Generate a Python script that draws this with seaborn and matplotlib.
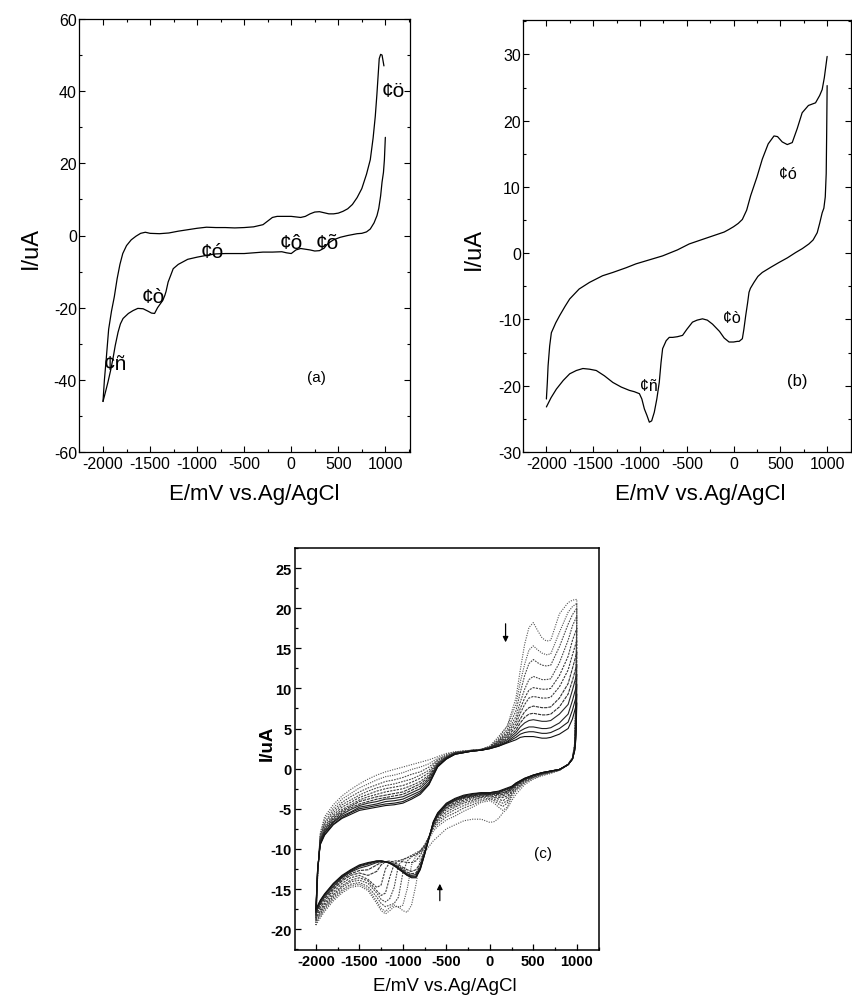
import numpy as np
import pandas as pd
import seaborn as sns
import matplotlib.pyplot as plt
from matplotlib.ticker import MultipleLocator

sns.set_theme(style='ticks')
plt.rcParams['font.family'] = ['Liberation Sans', 'DejaVu Sans']
plt.rcParams['axes.unicode_minus'] = False
plt.rcParams['text.color'] = 'black'
plt.rcParams['axes.labelcolor'] = 'black'
plt.rcParams['xtick.color'] = 'black'
plt.rcParams['ytick.color'] = 'black'

# ---------------- panel (a) ----------------
a_up_E = [-2000, -1985, -1965, -1940, -1910, -1880, -1850, -1820, -1790, -1750, -1700, -1650,
          -1600, -1550, -1500, -1400, -1300, -1200, -1100, -1000, -900, -800, -700, -600, -500,
          -400, -300, -250, -200, -150, -100, 0, 100, 150, 200, 250, 300, 350, 400, 450, 500,
          550, 600, 650, 700, 750, 800, 840, 870, 893, 910, 925, 935, 950, 965, 975, 985]
a_up_I = [-46, -40, -34, -26, -21, -17, -12, -8, -5, -2.8, -1.2, -0.2,
          0.6, 0.9, 0.6, 0.5, 0.7, 1.2, 1.6, 2.0, 2.3, 2.2, 2.2, 2.1, 2.2,
          2.4, 3.0, 4.0, 5.0, 5.3, 5.3, 5.3, 5.0, 5.3, 6.0, 6.5, 6.6, 6.3, 6.0, 6.0, 6.2,
          6.7, 7.4, 8.6, 10.5, 13.0, 17.0, 21.0, 27.0, 33.0, 39.0, 45.0, 49.0, 50.2, 50.0, 48.5, 47.0]
a_dn_E = [1000, 990, 980, 965, 950, 930, 911, 880, 840, 800, 750, 700, 600, 520, 450, 414,
          380, 350, 300, 250, 200, 150, 100, 50, 0, -50, -100, -200, -300, -400, -500, -600,
          -700, -800, -900, -1000, -1100, -1150, -1200, -1254, -1280, -1308, -1330, -1343,
          -1365, -1390, -1420, -1452, -1485, -1520, -1574, -1630, -1680, -1730, -1787, -1815,
          -1840, -1870, -1894, -1920, -1947, -1975, -2000]
a_dn_I = [27.2, 21.0, 17.5, 14.8, 11.0, 7.5, 5.5, 3.5, 1.8, 1.0, 0.6, 0.5, 0.0, -0.5, -1.2, -1.8,
          -2.5, -3.5, -4.2, -4.3, -4.0, -3.8, -3.6, -4.0, -5.0, -4.8, -4.5, -4.6, -4.6, -4.8, -5.0, -5.0,
          -5.0, -5.1, -5.5, -6.0, -6.6, -7.3, -8.0, -9.2, -11.0, -12.9, -15.5, -16.6,
          -18.0, -18.9, -20.0, -21.6, -21.5, -21.0, -20.3, -20.2, -20.8, -21.6, -23.0, -24.5,
          -26.8, -30.5, -34.1, -37.5, -40.6, -43.5, -46.0]
a_labels = ['¢ñ', '¢ò', '¢ó', '¢ô', '¢õ', '¢ö']
a_label_E = [-1872, -1465, -844, -3, 380, 1088]
a_label_I = [-35.6, -17.0, -4.4, -1.9, -1.9, 40.1]

# ---------------- panel (b) ----------------
b_up_E = [-2000, -1990, -1982, -1965, -1947, -1900, -1858, -1800, -1751, -1650, -1539, -1400,
          -1290, -1150, -1042, -900, -758, -600, -474, -350, -225, -100, -48, 0, 50, 94, 140,
          183, 250, 307, 370, 432, 470, 520, 574, 627, 680, 733, 800, 876, 920, 947, 970, 1000]
b_up_I = [-22.0, -19.5, -17.0, -14.0, -12.0, -10.5, -9.4, -8.0, -6.9, -5.4, -4.4, -3.4,
          -2.9, -2.2, -1.6, -1.0, -0.4, 0.5, 1.4, 2.0, 2.6, 3.2, 3.6, 4.0, 4.5, 5.1, 6.5,
          8.7, 11.5, 14.2, 16.5, 17.7, 17.6, 16.8, 16.4, 16.7, 18.8, 21.2, 22.3, 22.7, 23.8, 24.7, 26.5, 29.7]
b_dn_E = [1000, 995, 990, 980, 965, 947, 920, 894, 850, 805, 735, 663, 575, 485, 400, 307,
          260, 218, 180, 165, 150, 130, 110, 94, 60, 41, 0, -48, -100, -150, -225, -280, -332,
          -390, -439, -500, -545, -600, -650, -687, -720, -758, -775, -794, -820, -847, -875,
          -900, -925, -953, -980, -1006, -1060, -1113, -1200, -1290, -1380, -1467, -1540,
          -1610, -1680, -1751, -1820, -1893, -1950, -2000]
b_dn_I = [25.3, 18.0, 12.0, 8.5, 6.8, 6.1, 4.5, 3.1, 2.0, 1.4, 0.7, 0.1, -0.7, -1.4, -2.1, -2.9,
          -3.5, -4.4, -5.3, -5.9, -7.5, -9.4, -11.5, -12.9, -13.3, -13.3, -13.4, -13.4, -12.8,
          -11.8, -10.7, -10.1, -9.9, -10.1, -10.4, -11.5, -12.4, -12.6, -12.7, -12.7, -13.2,
          -14.4, -16.5, -19.5, -22.0, -24.0, -25.3, -25.5, -24.5, -23.5, -22.0, -21.2, -20.9,
          -20.7, -20.2, -19.5, -18.5, -17.7, -17.5, -17.4, -17.7, -18.2, -19.2, -20.5, -21.8, -23.2]
b_labels = ['¢ó', '¢ò', '¢ñ']
b_label_E = [584, -19, -900]
b_label_I = [12.1, -9.7, -20.0]

# ---------------- panel (c): repeated scans ----------------
c_up_E = [-2000, -1980, -1950, -1900, -1800, -1700, -1600, -1500, -1400, -1300, -1200, -1100,
          -1000, -900, -800, -700, -600, -500, -400, -300, -200, -100, 0, 100, 200, 300, 350,
          400, 450, 500, 550, 600, 650, 700, 800, 900, 950, 1000]
c_dn_E = [1000, 990, 975, 950, 900, 800, 700, 600, 500, 400, 300, 250, 200, 150, 100, 50, 0,
          -100, -200, -300, -400, -500, -600, -650, -700, -750, -800, -850, -900, -950, -1000,
          -1050, -1100, -1150, -1200, -1250, -1300, -1400, -1500, -1600, -1700, -1800, -1900,
          -1950, -2000]
c_up_I = [
    [-19.5, -13.5, -8.0, -6.0, -4.5, -3.4, -2.6, -1.9, -1.3, -0.8, -0.4, -0.1, 0.2, 0.5, 0.8, 1.1, 1.5, 1.9, 2.1, 2.2, 2.3, 2.4,
     2.8, 4.0, 5.3, 8.8, 12.3, 15.5, 17.6, 18.2, 17.2, 16.3, 15.9, 16.0, 19.3, 20.7, 21.0, 21.1],
    [-19.2, -13.4, -8.2, -6.3, -4.9, -3.8, -3.1, -2.4, -1.9, -1.4, -1.0, -0.8, -0.5, -0.1, 0.2, 0.6, 1.3, 1.8, 2.1, 2.2, 2.3, 2.4,
     2.8, 3.8, 5.3, 8.0, 10.8, 13.0, 14.8, 15.3, 14.8, 14.4, 14.2, 14.3, 17.0, 19.5, 20.2, 20.6],
    [-19.0, -13.3, -8.4, -6.7, -5.2, -4.2, -3.5, -2.9, -2.4, -2.0, -1.6, -1.4, -1.1, -0.7, -0.4, 0.2, 1.1, 1.7, 2.0, 2.2, 2.3, 2.4,
     2.7, 3.6, 4.9, 7.2, 9.5, 11.6, 13.1, 13.6, 13.2, 12.9, 12.8, 12.9, 15.2, 18.0, 19.2, 20.0],
    [-18.8, -13.2, -8.6, -6.9, -5.5, -4.5, -3.9, -3.3, -2.8, -2.4, -2.1, -1.9, -1.6, -1.3, -0.8, -0.2, 1.0, 1.6, 2.0, 2.1, 2.3, 2.4,
     2.7, 3.5, 4.6, 6.5, 8.3, 9.9, 11.1, 11.5, 11.3, 11.1, 11.1, 11.2, 13.2, 16.0, 17.8, 19.0],
    [-18.6, -13.1, -8.8, -7.2, -5.8, -4.8, -4.2, -3.6, -3.2, -2.8, -2.5, -2.3, -2.1, -1.7, -1.2, -0.5, 0.8, 1.5, 2.0, 2.1, 2.3, 2.4,
     2.7, 3.4, 4.4, 6.0, 7.5, 8.8, 9.8, 10.1, 10.0, 9.9, 9.9, 10.0, 11.6, 14.0, 16.0, 17.5],
    [-18.4, -13.0, -8.9, -7.4, -6.0, -5.1, -4.5, -3.9, -3.5, -3.2, -2.9, -2.7, -2.5, -2.1, -1.6, -0.8, 0.7, 1.5, 1.9, 2.1, 2.2, 2.3,
     2.6, 3.3, 4.2, 5.6, 6.9, 8.0, 8.8, 9.0, 8.9, 8.8, 8.8, 8.9, 10.2, 12.3, 14.2, 16.0],
    [-18.2, -12.9, -9.0, -7.6, -6.2, -5.3, -4.7, -4.1, -3.8, -3.5, -3.3, -3.1, -2.9, -2.4, -1.9, -1.0, 0.6, 1.4, 1.9, 2.1, 2.2, 2.3,
     2.6, 3.2, 4.0, 5.2, 6.2, 7.1, 7.6, 7.8, 7.7, 7.6, 7.6, 7.7, 8.8, 10.6, 12.5, 14.5],
    [-18.0, -12.8, -9.1, -7.7, -6.4, -5.5, -4.9, -4.4, -4.1, -3.8, -3.6, -3.4, -3.2, -2.7, -2.2, -1.2, 0.5, 1.4, 1.9, 2.1, 2.2, 2.3,
     2.6, 3.1, 3.8, 4.8, 5.7, 6.4, 6.8, 6.9, 6.8, 6.7, 6.7, 6.8, 7.7, 9.3, 11.0, 13.0],
    [-17.9, -12.7, -9.2, -7.9, -6.6, -5.7, -5.1, -4.6, -4.3, -4.1, -3.8, -3.7, -3.5, -3.0, -2.5, -1.4, 0.4, 1.3, 1.9, 2.0, 2.2, 2.3,
     2.6, 3.0, 3.6, 4.5, 5.2, 5.7, 6.0, 6.1, 6.0, 5.9, 5.9, 6.0, 6.8, 8.0, 9.8, 11.8],
    [-17.8, -12.6, -9.3, -8.0, -6.7, -5.9, -5.4, -4.8, -4.6, -4.4, -4.1, -4.0, -3.8, -3.3, -2.8, -1.7, 0.3, 1.3, 1.8, 2.0, 2.2, 2.3,
     2.5, 2.9, 3.4, 4.2, 4.7, 5.0, 5.2, 5.2, 5.1, 5.0, 5.0, 5.1, 5.7, 6.8, 8.5, 10.5],
    [-17.6, -12.5, -9.4, -8.2, -6.9, -6.1, -5.5, -5.0, -4.8, -4.6, -4.4, -4.3, -4.1, -3.6, -3.0, -1.9, 0.3, 1.2, 1.8, 2.0, 2.2, 2.3,
     2.5, 2.8, 3.3, 3.9, 4.3, 4.5, 4.6, 4.6, 4.5, 4.4, 4.4, 4.5, 5.0, 5.8, 7.3, 9.3],
    [-17.5, -12.5, -9.5, -8.3, -7.0, -6.2, -5.7, -5.2, -5.0, -4.8, -4.6, -4.5, -4.3, -3.8, -3.2, -2.0, 0.2, 1.2, 1.8, 2.0, 2.2, 2.3,
     2.5, 2.8, 3.2, 3.6, 3.9, 4.0, 4.0, 4.0, 3.9, 3.8, 3.8, 3.9, 4.3, 5.0, 6.2, 8.2],
]
c_dn_I = [
    [21.1, 9.5, 3.2, 1.4, 0.6, -0.2, -0.6, -0.9, -1.3, -2.0, -3.2, -4.0, -5.0, -5.5, -6.2, -6.6, -6.7, -6.3, -6.3, -6.5, -7.0, -7.5, -8.5,
     -9.0, -9.7, -10.4, -11.2, -14.5, -17.0, -17.9, -17.7, -17.2, -17.2, -17.7, -18.1, -17.7, -16.8, -15.2, -14.6, -14.8, -15.5, -16.5, -17.8, -18.6, -19.5],
    [20.6, 9.3, 3.0, 1.3, 0.5, -0.2, -0.5, -0.8, -1.2, -1.8, -2.8, -3.6, -4.8, -5.2, -4.8, -4.3, -4.0, -4.2, -4.8, -5.3, -5.9, -6.4, -7.2,
     -7.8, -8.8, -9.8, -10.5, -10.9, -12.0, -15.0, -17.0, -17.3, -17.0, -17.3, -17.8, -17.4, -16.5, -15.0, -14.4, -14.6, -15.3, -16.3, -17.6, -18.4, -19.2],
    [20.0, 9.0, 2.9, 1.3, 0.5, -0.2, -0.5, -0.7, -1.1, -1.7, -2.6, -3.3, -4.3, -4.7, -4.4, -4.0, -3.8, -4.0, -4.5, -4.9, -5.5, -6.0, -6.9,
     -7.5, -8.6, -9.6, -10.3, -10.7, -11.0, -11.5, -13.0, -16.0, -16.8, -17.0, -17.2, -16.8, -16.0, -14.7, -14.2, -14.4, -15.1, -16.1, -17.4, -18.2, -19.0],
    [19.0, 8.5, 2.8, 1.3, 0.5, -0.2, -0.4, -0.7, -1.1, -1.6, -2.5, -3.1, -4.0, -4.3, -4.1, -3.8, -3.7, -3.8, -4.2, -4.6, -5.1, -5.7, -6.6,
     -7.3, -8.5, -9.5, -10.2, -10.5, -10.8, -11.1, -11.4, -12.0, -14.8, -16.2, -16.6, -16.3, -15.5, -14.3, -13.9, -14.1, -14.8, -15.9, -17.2, -18.0, -18.8],
    [17.5, 7.9, 2.7, 1.3, 0.5, -0.2, -0.4, -0.7, -1.0, -1.5, -2.3, -2.9, -3.6, -4.0, -3.8, -3.6, -3.5, -3.6, -4.0, -4.3, -4.8, -5.4, -6.4,
     -7.2, -8.5, -9.6, -10.3, -10.7, -10.9, -11.1, -11.3, -11.5, -11.9, -13.5, -15.5, -15.8, -15.2, -14.0, -13.6, -13.9, -14.6, -15.7, -17.0, -17.8, -18.6],
    [16.0, 7.2, 2.6, 1.2, 0.5, -0.1, -0.4, -0.6, -1.0, -1.4, -2.2, -2.8, -3.4, -3.6, -3.6, -3.5, -3.4, -3.5, -3.8, -4.1, -4.6, -5.1, -6.2,
     -7.1, -8.5, -9.8, -10.8, -11.5, -11.7, -11.7, -11.6, -11.5, -11.5, -11.7, -12.5, -14.5, -14.8, -13.8, -13.3, -13.6, -14.3, -15.4, -16.8, -17.6, -18.4],
    [14.5, 6.5, 2.5, 1.2, 0.5, -0.1, -0.4, -0.6, -0.9, -1.4, -2.1, -2.6, -3.1, -3.4, -3.4, -3.3, -3.3, -3.4, -3.6, -3.9, -4.4, -4.9, -6.0,
     -7.0, -8.6, -10.2, -11.8, -12.6, -12.8, -12.6, -12.3, -12.0, -11.7, -11.5, -11.6, -12.0, -12.8, -13.3, -13.0, -13.3, -14.0, -15.1, -16.5, -17.3, -18.2],
    [13.0, 5.8, 2.4, 1.2, 0.5, -0.1, -0.3, -0.6, -0.9, -1.3, -2.0, -2.5, -2.9, -3.2, -3.2, -3.2, -3.2, -3.3, -3.5, -3.7, -4.2, -4.8, -5.9,
     -6.9, -8.6, -10.4, -12.1, -13.0, -13.1, -12.9, -12.5, -12.2, -11.9, -11.7, -11.6, -11.7, -12.0, -12.6, -12.7, -13.1, -13.8, -14.9, -16.2, -17.0, -18.0],
    [11.8, 5.3, 2.4, 1.2, 0.5, -0.1, -0.3, -0.5, -0.9, -1.3, -2.0, -2.4, -2.8, -3.0, -3.1, -3.1, -3.2, -3.2, -3.4, -3.6, -4.0, -4.6, -5.8,
     -6.8, -8.6, -10.5, -12.3, -13.2, -13.3, -13.1, -12.7, -12.3, -12.0, -11.7, -11.6, -11.6, -11.7, -12.1, -12.4, -12.9, -13.6, -14.7, -16.0, -16.8, -17.9],
    [10.5, 4.7, 2.3, 1.2, 0.5, -0.1, -0.3, -0.5, -0.8, -1.3, -1.9, -2.3, -2.6, -2.8, -3.0, -3.0, -3.1, -3.1, -3.3, -3.5, -3.9, -4.5, -5.7,
     -6.7, -8.6, -10.6, -12.4, -13.4, -13.4, -13.2, -12.8, -12.4, -12.0, -11.7, -11.6, -11.5, -11.6, -11.9, -12.2, -12.8, -13.5, -14.5, -15.8, -16.6, -17.8],
    [9.3, 4.2, 2.3, 1.2, 0.5, -0.1, -0.3, -0.5, -0.8, -1.2, -1.8, -2.3, -2.5, -2.7, -2.9, -2.9, -3.0, -3.0, -3.2, -3.4, -3.8, -4.4, -5.6,
     -6.7, -8.7, -10.7, -12.5, -13.5, -13.5, -13.3, -12.9, -12.5, -12.1, -11.8, -11.6, -11.5, -11.5, -11.8, -12.1, -12.7, -13.4, -14.4, -15.7, -16.5, -17.6],
    [8.2, 3.7, 2.2, 1.2, 0.5, -0.1, -0.3, -0.5, -0.8, -1.2, -1.8, -2.2, -2.4, -2.6, -2.8, -2.9, -3.0, -3.0, -3.1, -3.3, -3.7, -4.3, -5.5,
     -6.6, -8.7, -10.7, -12.6, -13.6, -13.6, -13.3, -12.9, -12.5, -12.1, -11.8, -11.6, -11.5, -11.5, -11.7, -12.0, -12.6, -13.3, -14.3, -15.6, -16.4, -17.5],
]

rows = []
for k, (up, dn) in enumerate(zip(c_up_I, c_dn_I)):
    assert len(up) == len(c_up_E) and len(dn) == len(c_dn_E), k
    for e, i in zip(c_up_E + c_dn_E, up + dn):
        rows.append({'cycle': k, 'E': e, 'I': i})
c_df = pd.DataFrame(rows)

# ---------------- figure ----------------
W, H = 853, 1003
fig = plt.figure(figsize=(W / 100, H / 100), dpi=100)


def box(left, right, top, bottom):
    return [left / W, 1 - bottom / H, (right - left) / W, (bottom - top) / H]


ax_a = fig.add_axes(box(79, 410, 20, 453))
ax_b = fig.add_axes(box(523, 851, 21, 453))
ax_c = fig.add_axes(box(295, 599, 549, 951))

for ax, uE, uI, dE, dI in [(ax_a, a_up_E, a_up_I, a_dn_E, a_dn_I),
                           (ax_b, b_up_E, b_up_I, b_dn_E, b_dn_I)]:
    sns.lineplot(x=uE, y=uI, sort=False, estimator=None, color='black', lw=0.9, ax=ax)
    sns.lineplot(x=dE, y=dI, sort=False, estimator=None, color='black', lw=0.9, ax=ax)

# scans (c): early ones lighter and dotted, later ones dark
greys = ['#555555', '#505050', '#4a4a4a', '#454545', '#404040', '#3a3a3a',
         '#333333', '#2d2d2d', '#262626', '#202020', '#1a1a1a', '#111111']
dash_list = [(1, 1.2), (1, 1.1), (1.5, 1), (1.5, 1), (2, 1), (2, 1),
             (3, 0.8), (3, 0.8), '', '', '', '']
sns.lineplot(data=c_df, x='E', y='I', hue='cycle', style='cycle', sort=False, estimator=None,
             palette=dict(enumerate(greys)), dashes=dict(enumerate(dash_list)),
             lw=0.8, legend=False, ax=ax_c)

# ---------------- axes styling ----------------
for ax, xl, yl, ymaj, ymin in [(ax_a, (-2255, 1262), (-60, 60), 20, 10),
                               (ax_b, (-2250, 1255), (-30, 35.2), 10, 5)]:
    ax.set_xlim(*xl)
    ax.set_ylim(*yl)
    ax.xaxis.set_major_locator(MultipleLocator(500))
    ax.xaxis.set_minor_locator(MultipleLocator(250))
    ax.yaxis.set_major_locator(MultipleLocator(ymaj))
    ax.yaxis.set_minor_locator(MultipleLocator(ymin))
    ax.tick_params(which='both', direction='in', top=True, right=True, width=0.8, colors='black',
                   labelsize=11.5)
    ax.tick_params(which='major', length=4)
    ax.tick_params(which='minor', length=2.5)
    ax.tick_params(axis='x', pad=3)
    ax.tick_params(axis='y', pad=1.5)
    for s in ax.spines.values():
        s.set_linewidth(0.9)
        s.set_color('black')
    ax.set_xlabel('E/mV vs.Ag/AgCl', fontsize=16)
    ax.set_ylabel('I/uA', fontsize=17)

ax_a.xaxis.set_label_coords(0.529, -0.072)
ax_a.yaxis.set_label_coords(-0.113, 0.473)
ax_b.xaxis.set_label_coords(0.541, -0.072)
ax_b.yaxis.set_label_coords(-0.117, 0.472)

ax_c.set_xlim(-2240, 1255)
ax_c.set_ylim(-22.6, 27.5)
ax_c.xaxis.set_major_locator(MultipleLocator(500))
ax_c.xaxis.set_minor_locator(MultipleLocator(250))
ax_c.yaxis.set_major_locator(MultipleLocator(5))
ax_c.yaxis.set_minor_locator(MultipleLocator(2.5))
ax_c.tick_params(which='both', direction='in', width=0.9, colors='black')
ax_c.tick_params(which='major', length=4)
ax_c.tick_params(which='minor', length=2.5)
ax_c.tick_params(axis='x', pad=3)
ax_c.tick_params(axis='y', pad=2.5)
for lab in ax_c.get_xticklabels() + ax_c.get_yticklabels():
    lab.set_family(['Liberation Sans Narrow', 'Liberation Sans'])
    lab.set_fontsize(10.5)
    lab.set_fontweight('bold')
for s in ax_c.spines.values():
    s.set_linewidth(1.1)
    s.set_color('black')
ax_c.set_xlabel('E/mV vs.Ag/AgCl', fontsize=13.5)
ax_c.set_ylabel('I/uA', fontsize=13.5, fontweight='bold')
ax_c.xaxis.set_label_coords(0.493, -0.068)
ax_c.yaxis.set_label_coords(-0.062, 0.517)

# ---------------- annotations ----------------
for t, e, i in zip(a_labels, a_label_E, a_label_I):
    ax_a.text(e, i, t, fontsize=15, ha='center', va='center')
ax_a.text(266, -39.3, '(a)', fontsize=11, ha='center', va='center')

for t, e, i in zip(b_labels, b_label_E, b_label_I):
    ax_b.text(e, i, t, fontsize=11.5, ha='center', va='center')
ax_b.text(680, -19.2, '(b)', fontsize=12, ha='center', va='center')

ax_c.text(612, -10.5, '(c)', fontsize=11, ha='center', va='center')
ax_c.annotate('', xy=(181, 15.4), xytext=(181, 18.4),
              arrowprops=dict(arrowstyle='-|>', color='black', lw=0.9, mutation_scale=8))
ax_c.annotate('', xy=(-575, -14.0), xytext=(-575, -16.8),
              arrowprops=dict(arrowstyle='-|>', color='black', lw=0.9, mutation_scale=8))

fig.savefig('out.png', dpi=100)
